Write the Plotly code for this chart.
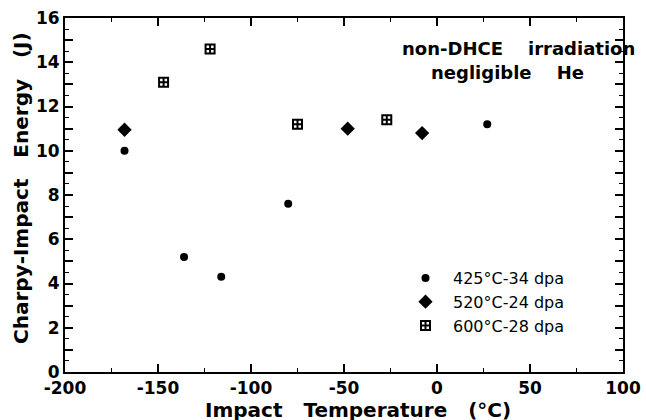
import plotly.graph_objects as go

# Data
t_425 = [-168, -136, -116, -80, 27]
e_425 = [10.0, 5.2, 4.3, 7.6, 11.2]
t_520 = [-168, -48, -8]
e_520 = [10.95, 11.0, 10.8]
t_600 = [-147, -122, -75, -27]
e_600 = [13.1, 14.6, 11.2, 11.4]

x_ticks = [-200, -150, -100, -50, 0, 50, 100]
y_tick_vals = list(range(0, 17))
y_tick_text = [str(v) if v % 2 == 0 else "" for v in y_tick_vals]

W, H = 646, 420
L, R, T, B = 65, 23, 18, 48
pw, ph = W - L - R, H - T - B

def px(x):
    return (x - L) / pw

def py(y):
    return (H - B - y) / ph

FONT = "DejaVu Sans"

fig = go.Figure()
fig.add_trace(go.Scatter(x=t_425, y=e_425, mode="markers", name="425°C-34 dpa",
                         marker=dict(symbol="circle", size=8, color="black")))
fig.add_trace(go.Scatter(x=t_520, y=e_520, mode="markers", name="520°C-24 dpa",
                         marker=dict(symbol="diamond", size=11, color="black")))
fig.add_trace(go.Scatter(x=t_600, y=e_600, mode="markers", name="600°C-28 dpa",
                         marker=dict(symbol="square-cross-open", size=9, color="black",
                                     line=dict(width=2, color="black"))))

axis_common = dict(showgrid=False, zeroline=False, showline=True, linecolor="black",
                   linewidth=2, mirror="ticks", ticks="inside", tickwidth=1.5,
                   tickcolor="black", automargin=False,
                   tickfont=dict(family=FONT, size=17, color="black", weight="bold"))

fig.update_xaxes(range=[-200, 100], tickvals=x_ticks, ticktext=[str(v) for v in x_ticks],
                 ticklen=8,
                 minor=dict(ticks="inside", ticklen=4, dtick=25, tickcolor="black", tickwidth=1.2),
                 **axis_common)
fig.update_yaxes(range=[0, 16], tickvals=y_tick_vals, ticktext=y_tick_text,
                 ticklen=8,
                 minor=dict(ticks="inside", ticklen=4, dtick=0.5, tickcolor="black", tickwidth=1.2),
                 **axis_common)

title_font = dict(family=FONT, size=20, color="black", weight="bold")
fig.add_annotation(text="Impact   Temperature   (°C)", xref="paper", yref="paper",
                   x=px(358), y=py(409.5), showarrow=False, xanchor="center", yanchor="middle",
                   font=title_font)
fig.add_annotation(text="Charpy-Impact   Energy   (J)", xref="paper", yref="paper",
                   x=px(21), y=py(188), showarrow=False, xanchor="center", yanchor="middle",
                   textangle=-90, font=title_font)

note_font = dict(family=FONT, size=18, color="black", weight="bold")
fig.add_annotation(text="non-DHCE    irradiation", xref="paper", yref="paper",
                   x=px(518), y=py(48), showarrow=False, xanchor="center", yanchor="middle",
                   font=note_font)
fig.add_annotation(text="negligible    He", xref="paper", yref="paper",
                   x=px(507), y=py(72), showarrow=False, xanchor="center", yanchor="middle",
                   font=note_font)

fig.update_layout(
    width=W, height=H,
    margin=dict(l=L, r=R, t=T, b=B, autoexpand=False),
    paper_bgcolor="white", plot_bgcolor="white",
    showlegend=True,
    legend=dict(x=px(398), y=py(302), xanchor="left", yanchor="middle",
                bgcolor="rgba(0,0,0,0)", itemwidth=45, tracegroupgap=0,
                font=dict(family=FONT, size=16, color="black")),
)

fig.write_html("out.html",
               config={"displayModeBar": False},
               post_script="document.body.style.margin='0';document.body.style.padding='0';"
                           "document.documentElement.style.overflow='hidden';")
